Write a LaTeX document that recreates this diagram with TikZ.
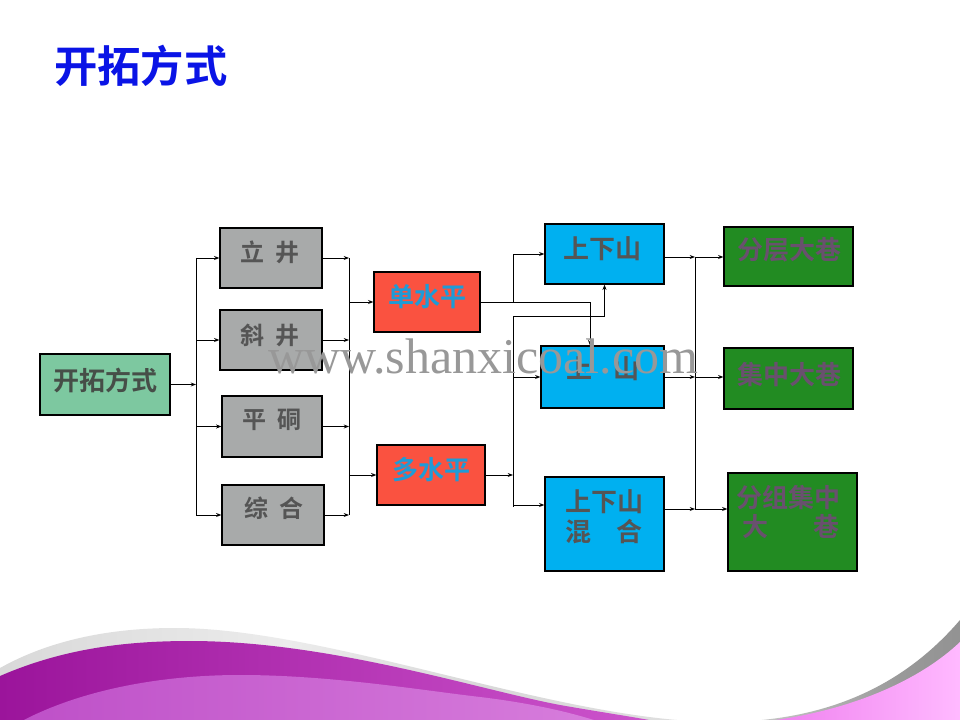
\documentclass[tikz,border=0pt]{standalone}
\usepackage{fontspec}
\newfontfamily\cjk[BoldFont={Noto Sans CJK SC Bold}]{Noto Sans CJK SC}
\newfontfamily\wmfont{Liberation Serif}
\usetikzlibrary{arrows.meta,fit,calc}
\definecolor{ktgreen}{RGB}{125,200,160}
\definecolor{boxgray}{RGB}{168,170,170}
\definecolor{boxred}{RGB}{250,82,64}
\definecolor{boxblue}{RGB}{0,176,240}
\definecolor{boxgreen}{RGB}{34,139,34}
\definecolor{titleblue}{RGB}{10,20,230}
\definecolor{txtdark}{RGB}{70,78,72}
\definecolor{txtgray}{RGB}{85,85,85}
\definecolor{txtcyan}{RGB}{30,155,215}
\definecolor{txtpurple}{RGB}{105,80,110}
\definecolor{wmgray}{RGB}{152,152,152}
\definecolor{purA}{RGB}{155,20,155}
\definecolor{purB}{RGB}{205,85,205}
\definecolor{purC}{RGB}{190,80,200}
\definecolor{purD}{RGB}{215,125,220}
\definecolor{pinkA}{RGB}{238,125,238}
\definecolor{pinkB}{RGB}{255,185,255}
\pgfdeclarehorizontalshading{bandshade}{100bp}{color(0bp)=(gray!30); color(25bp)=(gray!30); color(40bp)=(gray!15); color(50bp)=(gray!30); color(61bp)=(gray!25); color(66.7bp)=(gray!55); color(71.9bp)=(gray!80); color(75bp)=(gray!85); color(100bp)=(gray!85)}
\tikzset{
  box/.style={draw=black, line width=0.9pt, inner sep=0pt},
  arr/.style={-{Stealth[length=4pt,width=3pt]}, line width=0.7pt},
  bus/.style={line width=0.7pt},
  lbl/.style={font=\cjk\bfseries\fontsize{18pt}{20pt}\selectfont, inner sep=0pt},
  lblb/.style={font=\cjk\bfseries\fontsize{19.5pt}{22pt}\selectfont, inner sep=0pt},
}
\begin{document}
\begin{tikzpicture}[x=0.75pt,y=-0.75pt]
\useasboundingbox (0,0) rectangle (960,720);
\fill[white] (0,0) rectangle (960,720);
% bottom wave
\shade[shading=bandshade] (0,668) .. controls (50,640) and (110,628) .. (175,628)
  .. controls (330,628) and (560,722) .. (720,722)
  .. controls (820,722) and (900,690) .. (960,620) -- (960,720) -- (0,720) -- cycle;
\shade[left color=purA, right color=purB] (0,676) .. controls (60,650) and (120,641) .. (190,641)
  .. controls (330,641) and (480,690) .. (560,705) .. controls (600,712) and (640,718) .. (660,722)
  -- (0,722) -- cycle;
\shade[left color=purC, right color=purD] (20,722) .. controls (80,690) and (160,675) .. (240,675)
  .. controls (330,675) and (420,690) .. (480,697) .. controls (530,703) and (570,712) .. (600,722) -- cycle;
\shade[left color=pinkA, right color=pinkB] (760,722) .. controls (850,712) and (920,680) .. (960,642)
  -- (960,722) -- cycle;
% title
\node[anchor=west, inner sep=0pt, text=titleblue, font=\cjk\bfseries\fontsize{32.5pt}{36pt}\selectfont] (title) at (54,66) {开拓方式};
% boxes
\node[box, fill=ktgreen, fit={(40,354)(170,415)}] (kt) {};
\node[box, fill=boxgray, fit={(220,228)(322,288)}] (lj) {};
\node[box, fill=boxgray, fit={(220,310)(322,370)}] (xj) {};
\node[box, fill=boxgray, fit={(222,396)(322,457)}] (pd) {};
\node[box, fill=boxgray, fit={(222,485)(324,545)}] (zh) {};
\node[box, fill=boxred, fit={(374,272)(480,332)}] (dsp) {};
\node[box, fill=boxred, fit={(377,445)(485,505)}] (msp) {};
\node[box, fill=boxblue, fit={(545,224)(664,284)}] (sxs) {};
\node[box, fill=boxblue, fit={(541,346)(664,408)}] (sx) {};
\node[box, fill=boxblue, fit={(545,477)(664,571)}] (hh) {};
\node[box, fill=boxgreen, fit={(724,227)(853,286)}] (fc) {};
\node[box, fill=boxgreen, fit={(724,348)(853,409)}] (jz) {};
\node[box, fill=boxgreen, fit={(728,473)(857,571)}] (fz) {};
% labels
\node[lblb, text=txtdark] (ktt) at (105,381) {开拓方式};
\node[lbl, text=txtgray] (ljt) at (270,252) {立\hspace{0.45em}井};
\node[lbl, text=txtgray] (xjt) at (270,335) {斜\hspace{0.45em}井};
\node[lbl, text=txtgray] (pdt) at (272,420) {平\hspace{0.45em}硐};
\node[lbl, text=txtgray] (zht) at (274,508) {综\hspace{0.45em}合};
\node[lblb, text=txtcyan] (dspt) at (427,297) {单水平};
\node[lblb, text=txtcyan] (mspt) at (431,470) {多水平};
\node[lblb, text=txtgray] (sxst) at (602,249) {上下山};
\node[lblb, text=txtgray] (sxt) at (603,369) {上\hspace{0.8em}山};
\node[lblb, text=txtgray] (hht1) at (604,502) {上下山};
\node[lblb, text=txtgray] (hht2) at (604,532) {混\hspace{0.95em}合};
\node[lblb, text=txtpurple] (fct) at (789,250) {分层大巷};
\node[lblb, text=txtpurple] (jzt) at (789,375) {集中大巷};
\node[lblb, text=txtpurple] (fzt1) at (788,498) {分组集中};
\node[lblb, text=txtpurple] (fzt2) at (791,527) {大\hspace{1.75em}巷};
% bus coordinates
\coordinate (Lx) at (196,0);
\coordinate (Mx) at (349,0);
\coordinate (Rx) at (513,0);
\coordinate (Jd) at (590,0);
\coordinate (R2) at (513,316);
\coordinate (R3) at (513,505);
\coordinate (R4) at (513,507);
\coordinate (S1) at (695,257);
\coordinate (S2) at (695,377);
\coordinate (S3) at (695,509);
% left group
\draw[arr] (kt.east) -- (kt.east -| Lx);
\draw[bus] (Lx |- lj.west) -- (Lx |- zh.west);
\foreach \n in {lj,xj,pd,zh} \draw[arr] (Lx |- \n.west) -- (\n.west);
\foreach \n in {lj,xj,pd,zh} \draw[arr] (\n.east) -- (\n.east -| Mx);
\draw[bus] (Mx |- lj.east) -- (Mx |- zh.east);
\draw[arr] (Mx |- dsp.west) -- (dsp.west);
\draw[arr] (Mx |- msp.west) -- (msp.west);
% middle group
\draw[arr] (dsp.east) -| (Jd |- sx.north);
\draw[arr] (Rx |- dsp.east) |- (sxs.west);
\draw[arr] (msp.east) -- (Rx |- msp.east);
\draw[arr] (R2) -| (sxs.south);
\draw[bus] (R2) -- (R4);
\draw[arr] (Rx |- sx.west) -- (sx.west);
\draw[arr] (R3) -- (R3 -| hh.west);
% right group
\draw[arr] (S1 -| sxs.east) -- (S1);
\draw[arr] (S2 -| sx.east) -- (S2);
\draw[arr] (S3 -| hh.east) -- (S3);
\draw[bus] (S1) -- (S3);
\draw[arr] (S1) -- (S1 -| fc.west);
\draw[arr] (S2) -- (S2 -| jz.west);
\draw[arr] (S3) -- (S3 -| fz.west);
% watermark
\node[anchor=base west, inner sep=0pt, text=wmgray, font=\wmfont\fontsize{37.5pt}{40pt}\selectfont] (wm) at (268,373) {www.shanxicoal.com};
\end{tikzpicture}
\end{document}
